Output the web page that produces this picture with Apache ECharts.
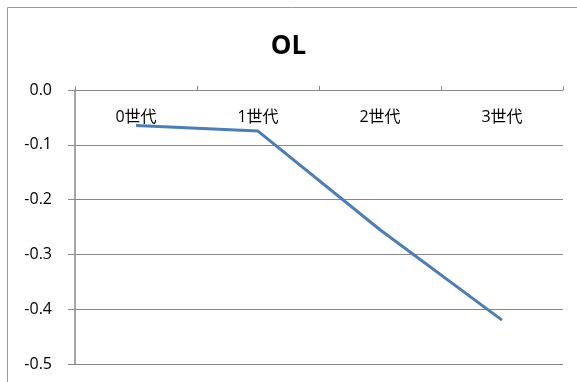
<!DOCTYPE html>
<html>
<head>
<meta charset="utf-8">
<script src="https://cdn.jsdelivr.net/npm/echarts@6/dist/echarts.min.js"></script>
<style>
  html, body { margin: 0; padding: 0; background: #fff; }
  #chart { width: 577px; height: 382px; }
</style>
</head>
<body>
<div id="chart"></div>
<script>
// データ
const categories = ["0世代", "1世代", "2世代", "3世代"];
const olValues = [-0.065, -0.075, -0.255, -0.42];
const yTicks = { min: -0.5, max: 0, interval: 0.1 };

const font = "'Open Sans', 'Noto Sans CJK JP', sans-serif";

let chart = echarts.init(document.getElementById("chart"));
chart.setOption({
  animation: false,
  // 外枠 (左と上のみ見える)
  graphic: [
    {
      type: "rect",
      shape: { x: 7.5, y: 7.5, width: 600, height: 400 },
      style: { fill: "none", stroke: "#999", lineWidth: 1 },
      silent: true
    }
  ],
  title: {
    text: "OL",
    left: "center",
    top: 29,
    textStyle: { fontFamily: font, fontSize: 26, fontWeight: "bold", color: "#000" }
  },
  grid: { left: 75, right: 14, top: 90, bottom: 18 },
  xAxis: {
    type: "category",
    position: "top",
    data: categories,
    boundaryGap: true,
    axisLine: { show: true, onZero: false, lineStyle: { color: "#888", width: 1 } },
    axisTick: { show: true, length: 4, lineStyle: { color: "#888" } },
    axisLabel: { inside: true, margin: 19, fontFamily: font, fontSize: 16, color: "#000" },
    splitLine: { show: false }
  },
  yAxis: {
    type: "value",
    min: yTicks.min,
    max: yTicks.max,
    interval: yTicks.interval,
    axisLine: { show: true, lineStyle: { color: "#888", width: 1.5 } },
    axisTick: { show: true, length: 7, lineStyle: { color: "#888" } },
    axisLabel: {
      margin: 23,
      fontFamily: font,
      fontSize: 16,
      color: "#000",
      formatter: v => v.toFixed(1)
    },
    splitLine: { show: true, lineStyle: { color: "#888", width: 1 } }
  },
  series: [
    {
      name: "OL",
      type: "line",
      data: olValues,
      symbol: "none",
      lineStyle: { color: "#4a7ebb", width: 3 }
    }
  ]
});
</script>
</body>
</html>
